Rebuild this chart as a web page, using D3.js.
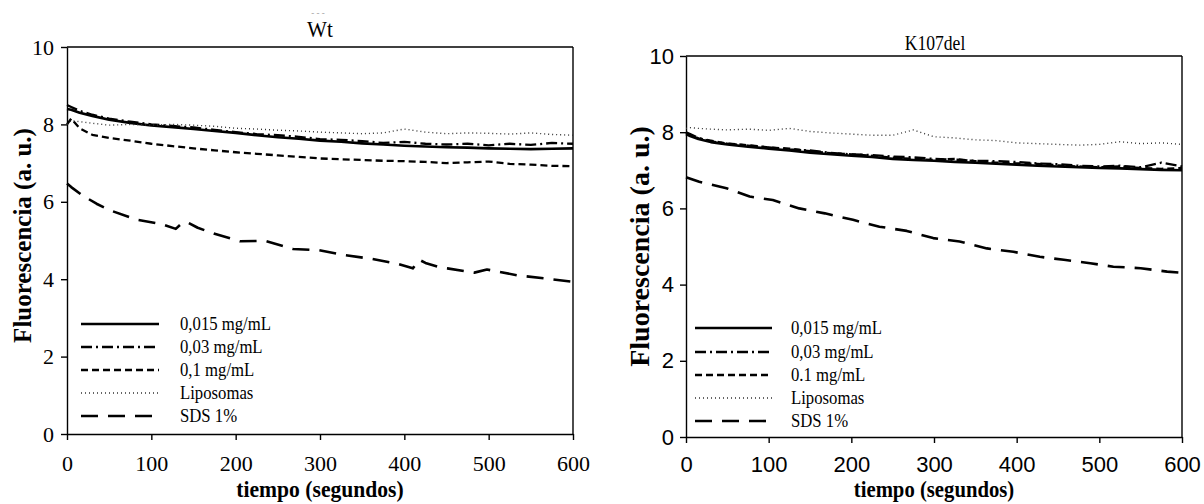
<!DOCTYPE html>
<html><head><meta charset="utf-8">
<script src="https://cdn.jsdelivr.net/npm/d3@7"></script>
<style>html,body{margin:0;padding:0;background:#fff;}svg{display:block;}</style>
</head><body>
<script>
// ---------------- DATA ----------------
const xTicks = [0, 100, 200, 300, 400, 500, 600];
const yTicks = [0, 2, 4, 6, 8, 10];
const seriesNamesWt = ["0,015 mg/mL", "0,03 mg/mL", "0,1 mg/mL", "Liposomas", "SDS 1%"];
const seriesNamesK = ["0,015 mg/mL", "0,03 mg/mL", "0.1 mg/mL", "Liposomas", "SDS 1%"];
const titleWt = "Wt";
const titleK = "K107del";

const timeGrid = [0, 5, 15, 30, 50, 75, 100, 125, 150, 175, 200, 225, 250, 275, 300, 325, 350, 375, 400, 425, 450, 475, 500, 525, 550, 575, 600];

// Wt panel
const wt015 = [8.40, 8.38, 8.30, 8.22, 8.12, 8.04, 7.97, 7.93, 7.88, 7.83, 7.78, 7.72, 7.67, 7.63, 7.58, 7.55, 7.51, 7.48, 7.45, 7.43, 7.41, 7.40, 7.38, 7.37, 7.36, 7.37, 7.38];
const wt003 = [8.50, 8.45, 8.35, 8.25, 8.15, 8.07, 8.00, 7.96, 7.92, 7.86, 7.80, 7.75, 7.72, 7.68, 7.62, 7.60, 7.57, 7.52, 7.55, 7.50, 7.48, 7.50, 7.46, 7.50, 7.47, 7.52, 7.50];
const wt01 = [8.00, 8.15, 7.90, 7.73, 7.65, 7.58, 7.50, 7.44, 7.38, 7.33, 7.28, 7.24, 7.20, 7.16, 7.12, 7.10, 7.08, 7.06, 7.05, 7.03, 7.00, 7.02, 7.04, 6.98, 6.96, 6.93, 6.92];
const wtLipo = [8.00, 8.10, 8.07, 8.03, 7.98, 8.00, 7.98, 8.00, 7.98, 7.95, 7.90, 7.88, 7.85, 7.83, 7.80, 7.78, 7.76, 7.78, 7.88, 7.80, 7.76, 7.78, 7.77, 7.75, 7.78, 7.74, 7.72];
const wtSdsTime = [0, 5, 18, 35, 51, 82, 113, 129, 135, 142, 155, 174, 205, 235, 268, 299, 330, 360, 393, 410, 418, 425, 440, 451, 483, 498, 534, 567, 600];
const wtSds = [6.47, 6.38, 6.17, 5.95, 5.78, 5.54, 5.42, 5.30, 5.42, 5.48, 5.33, 5.18, 4.98, 4.99, 4.78, 4.75, 4.62, 4.53, 4.39, 4.28, 4.50, 4.42, 4.32, 4.28, 4.17, 4.25, 4.10, 4.02, 3.93];

// K107del panel
const k015 = [7.95, 7.90, 7.82, 7.74, 7.68, 7.62, 7.57, 7.52, 7.46, 7.42, 7.38, 7.35, 7.30, 7.27, 7.25, 7.22, 7.20, 7.17, 7.15, 7.12, 7.10, 7.08, 7.06, 7.05, 7.03, 7.01, 7.00];
const k003 = [8.00, 7.95, 7.85, 7.76, 7.70, 7.65, 7.60, 7.55, 7.52, 7.46, 7.42, 7.40, 7.36, 7.34, 7.30, 7.28, 7.25, 7.24, 7.22, 7.18, 7.16, 7.12, 7.10, 7.12, 7.08, 7.20, 7.10];
const k01 = [7.98, 7.93, 7.84, 7.78, 7.70, 7.66, 7.60, 7.57, 7.50, 7.45, 7.42, 7.38, 7.33, 7.30, 7.27, 7.30, 7.24, 7.20, 7.18, 7.17, 7.13, 7.10, 7.08, 7.10, 7.06, 7.04, 7.06];
const kLipo = [8.10, 8.12, 8.10, 8.08, 8.06, 8.08, 8.05, 8.10, 8.02, 7.98, 7.95, 7.92, 7.92, 8.06, 7.88, 7.85, 7.80, 7.78, 7.72, 7.70, 7.68, 7.66, 7.68, 7.75, 7.70, 7.72, 7.68];
const kSdsTime = [0, 16, 49, 77, 105, 137, 168, 202, 234, 267, 299, 331, 364, 396, 428, 457, 489, 517, 550, 582, 600];
const kSds = [6.82, 6.70, 6.53, 6.31, 6.22, 6.00, 5.87, 5.70, 5.52, 5.41, 5.22, 5.13, 4.95, 4.86, 4.73, 4.65, 4.56, 4.47, 4.43, 4.34, 4.31];

// ---------------- STYLES ----------------
const lineStyles = [
  {dash: null, width: 2.6, color: "#000"},
  {dash: "11,4,2,4", width: 2.3, color: "#000"},
  {dash: "7,4", width: 2.3, color: "#000"},
  {dash: "1,3", width: 1.4, color: "#333"},
  {dash: "17,10", width: 2.6, color: "#000"}
];
const SERIF = "'Liberation Serif','Times New Roman',serif";
const SANS = "'Liberation Sans',Arial,sans-serif";

const svg = d3.select("body").append("svg").attr("width", 1204).attr("height", 504);

function squishText(g, x, y, txt, opts) {
  return g.append("text")
    .attr("transform", `translate(${x},${y}) scale(${opts.sx || 1},1)` + (opts.rot ? ` rotate(${opts.rot})` : ""))
    .attr("text-anchor", opts.anchor || "middle")
    .attr("font-family", opts.family)
    .attr("font-size", opts.size)
    .attr("font-weight", opts.weight || "normal")
    .attr("fill", opts.fill || "#000")
    .text(txt);
}

function drawPanel(cfg) {
  const x = d3.scaleLinear().domain([0, 600]).range([cfg.x0, cfg.x1]);
  const y = d3.scaleLinear().domain([0, 10]).range([cfg.y0, cfg.y1]);
  const g = svg.append("g");

  // box top and right
  g.append("line").attr("x1", cfg.x0).attr("x2", cfg.x1).attr("y1", cfg.y1).attr("y2", cfg.y1).attr("stroke", "#000").attr("stroke-width", 1.4);
  g.append("line").attr("x1", cfg.x1).attr("x2", cfg.x1).attr("y1", cfg.y1).attr("y2", cfg.y0).attr("stroke", "#000").attr("stroke-width", 1.4);

  const xa = g.append("g").attr("transform", `translate(0,${cfg.y0})`)
    .call(d3.axisBottom(x).tickValues(xTicks).tickSize(6).tickSizeOuter(0).tickPadding(cfg.xPad).tickFormat(d3.format("d")));
  const ya = g.append("g").attr("transform", `translate(${cfg.x0},0)`)
    .call(d3.axisLeft(y).tickValues(yTicks).tickSize(6).tickSizeOuter(0).tickPadding(cfg.yPad).tickFormat(d3.format("d")));
  [xa, ya].forEach(a => {
    a.select(".domain").attr("stroke-width", 1.4);
    a.selectAll(".tick line").attr("stroke-width", 1.4);
    a.selectAll(".tick text").attr("font-family", cfg.tickFamily).attr("font-size", cfg.tickSize).attr("fill", "#000");
  });

  const line = d3.line().x(d => x(d[0])).y(d => y(d[1]));
  cfg.series.forEach((s, i) => {
    const st = lineStyles[i];
    const pts = s.t.map((t, j) => [t, s.v[j]]);
    g.append("path").attr("d", line(pts)).attr("fill", "none")
      .attr("stroke", st.color).attr("stroke-width", st.width)
      .attr("stroke-dasharray", st.dash).attr("stroke-linejoin", "round");
  });

  // legend
  cfg.names.forEach((n, i) => {
    const st = lineStyles[i];
    const ly = cfg.legY[i];
    g.append("line").attr("x1", cfg.legX0).attr("x2", cfg.legX1).attr("y1", ly).attr("y2", ly)
      .attr("stroke", st.color).attr("stroke-width", st.width).attr("stroke-dasharray", st.dash);
    squishText(g, cfg.legTx, ly + 6, n, {family: SERIF, size: 19, sx: 0.88, anchor: "start"});
  });

  squishText(g, cfg.titleX, cfg.titleY, cfg.title, {family: SERIF, size: cfg.titleSize, sx: 0.88});
  squishText(g, (cfg.x0 + cfg.x1) / 2, cfg.xlabY, "tiempo (segundos)", {family: SERIF, size: cfg.xlabSize, sx: 0.9, weight: "bold"});
  squishText(g, cfg.ylabX, (cfg.y0 + cfg.y1) / 2 + cfg.ylabDy, "Fluorescencia (a. u.)", {family: SERIF, size: cfg.ylabSize, sx: 1, rot: -90, weight: "bold"});
}

drawPanel({
  x0: 67, x1: 573, y0: 434, y1: 47,
  xPad: 15, yPad: 7, tickFamily: SERIF, tickSize: 22,
  title: titleWt, titleX: 320, titleY: 37, titleSize: 24,
  xlabY: 497, xlabSize: 24, ylabX: 31, ylabDy: -5, ylabSize: 25,
  names: seriesNamesWt,
  legY: [324, 347, 370, 393, 416], legX0: 81, legX1: 159, legTx: 180,
  series: [
    {t: timeGrid, v: wt015}, {t: timeGrid, v: wt003}, {t: timeGrid, v: wt01},
    {t: timeGrid, v: wtLipo}, {t: wtSdsTime, v: wtSds}
  ]
});

drawPanel({
  x0: 686, x1: 1182, y0: 437, y1: 56,
  xPad: 13, yPad: 6, tickFamily: SANS, tickSize: 22,
  title: titleK, titleX: 935, titleY: 50, titleSize: 20,
  xlabY: 497, xlabSize: 23, ylabX: 649, ylabDy: 0, ylabSize: 28,
  names: seriesNamesK,
  legY: [328, 352, 375, 398, 421], legX0: 695, legX1: 772, legTx: 791,
  series: [
    {t: timeGrid, v: k015}, {t: timeGrid, v: k003}, {t: timeGrid, v: k01},
    {t: timeGrid, v: kLipo}, {t: kSdsTime, v: kSds}
  ]
});

// small grey mark above the Wt title
svg.append("text").attr("x", 318).attr("y", 16).attr("text-anchor", "middle")
  .attr("font-family", SERIF).attr("font-size", 9).attr("fill", "#999").text("- - -");
</script>
</body></html>
